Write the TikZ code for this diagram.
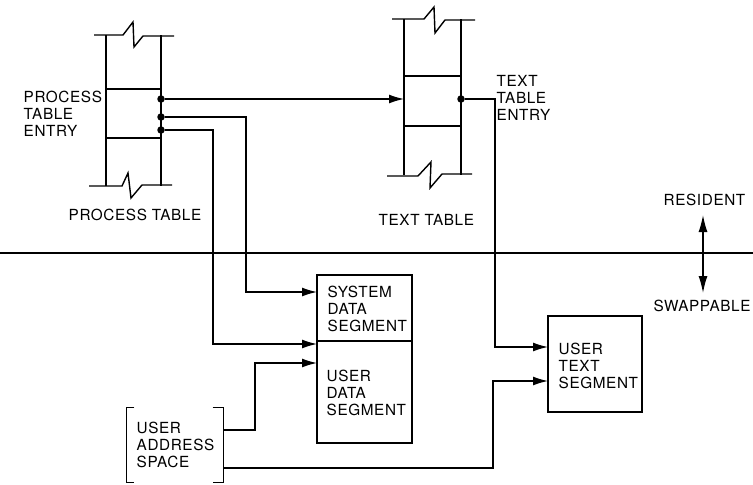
\documentclass[tikz,border=0pt]{standalone}
\usepackage{fontspec}
\setmainfont[LetterSpace=4]{TeX Gyre Heros}
\usetikzlibrary{arrows.meta}
\newcommand\mystack[1]{\vtop{\halign{##\hfil\cr#1\crcr}}}
\begin{document}
\begin{tikzpicture}[x=1pt,y=-1pt,
  line width=1.4pt,
  lbl/.style={anchor=base west,inner sep=0pt,font=\fontsize{15.3}{17.3}\selectfont},
  seg/.style={draw,rectangle,inner sep=0pt},
  arr/.style={-{Latex[length=15pt,width=9pt]}},
  dot/.style={circle,fill=black,inner sep=0pt,minimum size=7.5pt}]
\useasboundingbox (0,0) rectangle (753,485);

% ---------- process table ----------
\draw (106,35) -- (106,186);
\draw (161,35) -- (161,186);
\draw (94,35) -- (123,35) -- (133,22) -- (134,47) -- (143,36) -- (174,36);
\draw (106,89) -- (161,89);
\draw (106,138) -- (161,138);
\draw (89,186) -- (122,186) -- (128,173) -- (131,198) -- (142,185) -- (172,185);
\node[dot] (pd1) at (161,99) {};
\node[dot] (pd2) at (161,117) {};
\node[dot] (pd3) at (161,130) {};
\node[lbl] (pte) at (23,102) {\mystack{PROCESS\cr TABLE\cr ENTRY}};
\node[lbl] (ptl) at (68,220) {PROCESS TABLE};

% ---------- text table ----------
\draw (404,19) -- (404,175);
\draw (461,19) -- (461,175);
\draw (392,19) -- (424,19) -- (434,7) -- (435,33) -- (445,20) -- (475,20);
\draw (404,76) -- (461,76);
\draw (404,126) -- (461,126);
\draw (387,176) -- (418,176) -- (431,162) -- (430,188) -- (442,174) -- (472,174);
\node[dot] (td) at (461,99) {};
\coordinate (ttIn) at (404,99);
\node[lbl] (tte) at (496,86) {\mystack{TEXT\cr TABLE\cr ENTRY}};
\node[lbl] (ttl) at (378,225) {TEXT TABLE};

% ---------- resident / swappable ----------
\coordinate (divL) at (0,253);
\coordinate (divR) at (753,253);
\draw (divL) -- (divR);
\coordinate (resT) at (703,215);
\coordinate (resB) at (703,293);
\draw[{Latex[length=17pt,width=9pt]}-{Latex[length=17pt,width=9pt]}] (resT) -- (resB);
\node[lbl] (res) at (663,205) {RESIDENT};
\node[lbl] (swp) at (653,311) {SWAPPABLE};

% ---------- segments ----------
\node[seg,minimum width=95pt,minimum height=66pt] (sds) at (364.5,308) {};
\node[seg,minimum width=95pt,minimum height=102pt] (uds) at (364.5,392) {};
\node[seg,minimum width=94pt,minimum height=96pt] (uts) at (595,364) {};
\node[lbl] (sdsT) at (327,297) {\mystack{SYSTEM\cr DATA\cr SEGMENT}};
\node[lbl] (udsT) at (326,381) {\mystack{USER\cr DATA\cr SEGMENT}};
\node[lbl] (utsT) at (558,354) {\mystack{USER\cr TEXT\cr SEGMENT}};

% ---------- user address space ----------
\node[inner sep=0pt,minimum width=96pt,minimum height=74pt] (uas) at (175,445) {};
\draw ([xshift=8pt]uas.north west) -- (uas.north west) -- (uas.south west) -- ([xshift=8pt]uas.south west);
\draw ([xshift=-11pt]uas.north east) -- (uas.north east) -- (uas.south east) -- ([xshift=-11pt]uas.south east);
\node[lbl] (uasT) at (136,433) {\mystack{USER\cr ADDRESS\cr SPACE}};

% ---------- connectors ----------
\coordinate (sdIn) at (317,292);
\coordinate (udIn1) at (317,344);
\coordinate (udIn2) at (317,363);
\coordinate (utIn1) at (548,347);
\coordinate (utIn2) at (548,381);
\coordinate (uasR1) at (223,430);
\coordinate (uasR2) at (223,468);
\coordinate (tA) at (246,292);
\coordinate (tB) at (213,344);
\coordinate (tC) at (255,363);
\coordinate (tD) at (493,381);
\coordinate (tE) at (495,347);

\draw[arr] (pd1) -- (ttIn);
\draw[arr] (pd2) -| (tA) -- (sdIn);
\draw[arr] (pd3) -| (tB) -- (udIn1);
\draw[arr] (uasR1) -| (tC) -- (udIn2);
\draw[arr] (uasR2) -| (tD) -- (utIn2);
\draw[arr] (td) -| (tE) -- (utIn1);
\end{tikzpicture}
\end{document}
